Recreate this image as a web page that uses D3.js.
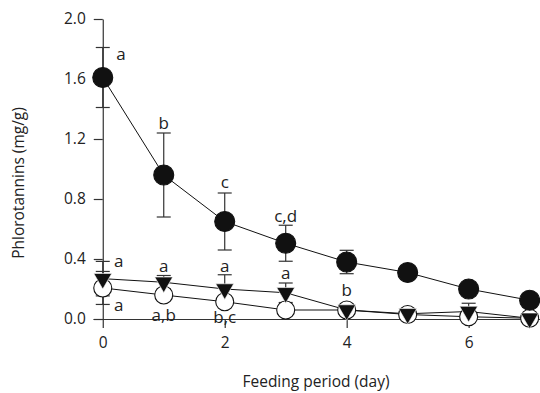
<!DOCTYPE html>
<html>
<head>
<meta charset="utf-8">
<script src="https://cdn.jsdelivr.net/npm/d3@7"></script>
<style>
  body { margin: 0; background: #fff; }
  text { font-family: "Open Sans", "Noto Sans", sans-serif; fill: #222; }
</style>
</head>
<body>
<div id="root"></div>
<script>
// feeding period (days)
const days = [0, 1, 2, 3, 4, 5, 6, 7];

// filled circles
const filledMean = [1.61, 0.96, 0.65, 0.505, 0.38, 0.31, 0.2, 0.125];
const filledErr = [0.2, 0.28, 0.19, 0.12, 0.078, 0, 0, 0];

// filled down-triangles
const triMean = [0.269, 0.245, 0.2, 0.175, 0.06, 0.035, 0.05, 0.005];
const triErr = [0.115, 0.045, 0.095, 0.065, 0, 0, 0.055, 0];

// open circles
const openMean = [0.207, 0.16, 0.115, 0.06, 0.06, 0.03, 0.015, 0.005];
const openErr = [0.11, 0, 0, 0, 0, 0, 0, 0];

const yTicks = [0, 0.4, 0.8, 1.2, 1.6, 2.0];
const xTicks = [0, 2, 4, 6];

// significance letters: [day, value, text]
const letters = [
  [0.3, 1.77, "a"],
  [1, 1.31, "b"],
  [2, 0.92, "c"],
  [3, 0.69, "c,d"],
  [4, 0.2, "b"],
  [0.26, 0.387, "a"],
  [1, 0.36, "a"],
  [2, 0.36, "a"],
  [3, 0.31, "a"],
  [0.26, 0.10, "a"],
  [1, 0.03, "a,b"],
  [2, 0.02, "b,c"]
];

const W = 540, H = 393;
const svg = d3.select("#root").append("svg").attr("width", W).attr("height", H);

const x = d3.scaleLinear().domain([-0.16, 7.17]).range([93, 540]);
const y = d3.scaleLinear().domain([0, 2]).range([319, 19]);

const axisColor = "#333";

// y axis
const yAxis = svg.append("g")
  .attr("transform", `translate(${x(0)},0)`)
  .call(d3.axisLeft(y).tickValues(yTicks).tickFormat(d3.format(".1f")).tickSize(9).tickSizeOuter(0).tickPadding(8));
yAxis.selectAll("text").style("font-size", "15.5px");

// x axis
const xAxis = svg.append("g")
  .attr("transform", `translate(0,${y(0)})`)
  .call(d3.axisBottom(x).tickValues(xTicks).tickSize(9).tickSizeOuter(0).tickPadding(9));
xAxis.selectAll("text").style("font-size", "15.5px");

svg.selectAll(".domain, .tick line").attr("stroke", axisColor).attr("stroke-width", 1.2);

// axis titles
svg.append("text")
  .attr("transform", `translate(18,${y(1.0) + 14}) rotate(-90)`)
  .attr("text-anchor", "middle")
  .attr("dominant-baseline", "central")
  .style("font-size", "15.5px")
  .text("Phlorotannins (mg/g)");

svg.append("text")
  .attr("x", 316).attr("y", 381)
  .attr("text-anchor", "middle")
  .attr("dominant-baseline", "central")
  .style("font-size", "15.5px")
  .text("Feeding period (day)");

const series = [
  { mean: openMean, err: openErr, kind: "open" },
  { mean: triMean, err: triErr, kind: "tri" },
  { mean: filledMean, err: filledErr, kind: "filled" }
];

const line = d3.line().x((d, i) => x(days[i])).y(d => y(d));

// connecting lines
series.forEach(s => {
  svg.append("path")
    .datum(s.mean)
    .attr("fill", "none")
    .attr("stroke", "#111")
    .attr("stroke-width", 1)
    .attr("d", line);
});

// error bars
series.forEach(s => {
  const g = svg.append("g").attr("stroke", "#333").attr("stroke-width", 1.2);
  s.mean.forEach((m, i) => {
    const e = s.err[i];
    if (!e) return;
    const cx = x(days[i]);
    g.append("line").attr("x1", cx).attr("x2", cx).attr("y1", y(m - e)).attr("y2", y(m + e));
    [m - e, m + e].forEach(v => {
      g.append("line").attr("x1", cx - 7).attr("x2", cx + 7).attr("y1", y(v)).attr("y2", y(v));
    });
  });
});

// markers
series.forEach(s => {
  const g = svg.append("g");
  if (s.kind === "tri") {
    g.selectAll("path")
      .data(s.mean)
      .join("path")
      .attr("d", d3.symbol(d3.symbolTriangle, 140))
      .attr("transform", (d, i) => `translate(${x(days[i])},${y(d)}) rotate(180)`)
      .attr("fill", "#111")
      .attr("stroke", "#fff")
      .attr("stroke-width", 0.6);
  } else {
    g.selectAll("circle")
      .data(s.mean)
      .join("circle")
      .attr("cx", (d, i) => x(days[i]))
      .attr("cy", d => y(d))
      .attr("r", s.kind === "open" ? 9 : 10)
      .attr("fill", s.kind === "open" ? "#fff" : "#111")
      .attr("stroke", "#111")
      .attr("stroke-width", 1.1);
  }
});

// letters
svg.append("g")
  .selectAll("text")
  .data(letters)
  .join("text")
  .attr("x", d => x(d[0]))
  .attr("y", d => y(d[1]))
  .attr("text-anchor", "middle")
  .attr("dominant-baseline", "central")
  .style("font-size", "17px")
  .text(d => d[2]);
</script>
</body>
</html>
